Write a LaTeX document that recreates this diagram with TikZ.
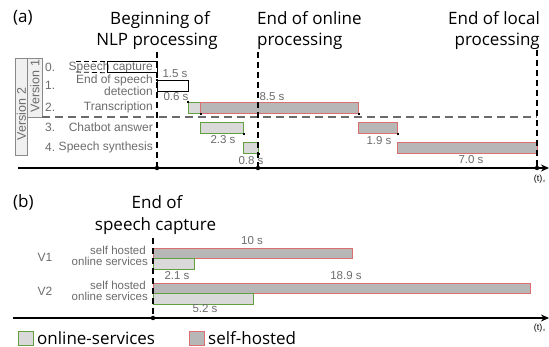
\documentclass[tikz,border=0pt]{standalone}
\usepackage{fontspec}
\setmainfont{Liberation Sans}
\newfontfamily\bigf{Open Sans}
\usetikzlibrary{arrows.meta}
\definecolor{gbord}{HTML}{62A03F}
\definecolor{rbord}{HTML}{D9706F}
\definecolor{lfill}{HTML}{D9D9D9}
\definecolor{dfill}{HTML}{B7B7B7}
\definecolor{txtg}{HTML}{6B6B6B}
\definecolor{vfill}{HTML}{F0F0F0}
\begin{document}
\begin{tikzpicture}[x=1pt,y=-1pt,
  big/.style={font=\bigf\fontsize{17}{20}\selectfont, inner sep=0},
  lab/.style={font=\fontsize{12}{9}\selectfont, text=txtg, inner sep=0},
  slab/.style={font=\fontsize{11.5}{9}\selectfont, text=txtg, inner sep=0},
  dur/.style={font=\fontsize{11.5}{12}\selectfont, text=txtg, inner sep=0},
  vlab/.style={font=\fontsize{12.5}{13}\selectfont, text=txtg, inner sep=0, rotate=90},
  verbox/.style={draw=txtg!80, fill=vfill, line width=0.8pt, inner sep=0, anchor=north west},
  gbar/.style={draw=gbord, fill=lfill, line width=1pt, inner sep=0, anchor=north west},
  rbar/.style={draw=rbord, fill=dfill, line width=1pt, inner sep=0, anchor=north west},
  wbar/.style={draw=black, fill=white, line width=0.8pt, inner sep=0, anchor=north west},
  vdash/.style={line width=1.8pt, dash pattern=on 6pt off 4pt},
  hdash/.style={draw=txtg, line width=1.1pt, dash pattern=on 8pt off 5pt},
  axis/.style={line width=2pt, -{Stealth[length=8pt,width=7pt]}},
  tdot/.style={circle, fill=black, inner sep=0, minimum size=4.5pt},
  cdot/.style={fill=black, inner sep=0, minimum size=2pt},
  tsub/.style={font=\fontsize{9}{9}\selectfont, inner sep=0}
]
\useasboundingbox (0,0) rectangle (549,347);

% ================= (a) =================
\node[big, anchor=base west] (pa) at (13,23) {(a)};
\node[big, anchor=base] (beg1) at (160,25) {Beginning of};
\node[big, anchor=base] (beg2) at (157,46) {NLP processing};
\node[big, anchor=base west] (onl1) at (257,25) {End of online};
\node[big, anchor=base west] (onl2) at (257,46) {processing};
\node[big, anchor=base east] (loc1) at (540,25) {End of local};
\node[big, anchor=base east] (loc2) at (540,46) {processing};

% version boxes
\node[verbox, minimum width=12, minimum height=97] (ver2) at (15,58) {};
\node[verbox, minimum width=15, minimum height=59] (ver1) at (27,58) {};
\node[vlab] (ver2t) at (21.5,114) {Version 2};
\node[vlab] (ver1t) at (35,86) {Version 1};

% row labels
\node[lab, anchor=west] (n0) at (45,67) {0.};
\node[lab, anchor=west] (n1) at (45,85) {1.};
\node[lab, anchor=west] (n2) at (45,107) {2.};
\node[lab, anchor=west] (n3) at (45,127) {3.};
\node[lab, anchor=west] (n4) at (45,147) {4.};
\node[lab, anchor=east] (r0) at (153,67) {Speech capture};
\node[lab, anchor=east, align=right] (r1) at (153,85) {End of speech\\detection};
\node[lab, anchor=east] (r2) at (153,107) {Transcription};
\node[lab, anchor=east] (r3) at (153,127) {Chatbot answer};
\node[lab, anchor=east] (r4) at (153,147) {Speech synthesis};

% speech capture box
\node[wbar, fill=none, minimum width=50, minimum height=11] (sc) at (107,61) {};
\coordinate (scA) at (76,61);
\coordinate (scB) at (76,72);
\draw[line width=0.8pt, dash pattern=on 5pt off 3pt] (scA) -- (sc.north west);
\draw[line width=0.8pt, dash pattern=on 5pt off 3pt] (scB) -- (sc.south west);

% horizontal dashed separator
\coordinate (hA) at (42,117);
\coordinate (hB) at (537,117);
\draw[hdash] (hA) -- (hB);

% bars
\node[wbar, minimum width=31, minimum height=11] (b1) at (157,80) {};
\node[gbar, minimum width=12, minimum height=10.5] (b2g) at (188,102.5) {};
\node[rbar, minimum width=158, minimum height=10.5] (b2r) at (200,102.5) {};
\node[gbar, minimum width=43, minimum height=10.5] (b3g) at (200,122.5) {};
\node[rbar, minimum width=39, minimum height=10.5] (b3r) at (358,122.5) {};
\node[gbar, minimum width=15, minimum height=10.5] (b4g) at (243,142.5) {};
\node[rbar, minimum width=140, minimum height=10.5] (b4r) at (397,142.5) {};

% corner markers
\node[cdot] (c1) at (b1.north west) {};
\node[cdot] (c2) at (b2g.north west) {};
\node[cdot] (c3) at (b2g.south east) {};
\node[cdot] (c4) at (b2r.south east) {};
\node[cdot] (c5) at (b3g.south east) {};
\node[cdot] (c6) at (b3r.south east) {};
\node[cdot] (c7) at (b4g.south east) {};

% durations
\node[dur] (d1) at (175,74) {1.5 s};
\node[dur] (d2) at (176,97) {0.6 s};
\node[dur] (d3) at (272,97) {8.5 s};
\node[dur] (d4) at (223,140) {2.3 s};
\node[dur] (d5) at (251,161) {0.8 s};
\node[dur] (d6) at (379,141) {1.9 s};
\node[dur] (d7) at (471,160) {7.0 s};

% vertical dashed lines + axis
\coordinate (v1t) at (157,52);
\coordinate (v2t) at (258,52);
\coordinate (v3t) at (537,50);
\coordinate (axA) at (18,168);
\coordinate (axB) at (549,168);
\node[tdot] (t1) at (157,168) {};
\node[tdot] (t2) at (258,168) {};
\node[tdot] (t3) at (537,168) {};
\draw[vdash] (v1t) -- (t1);
\draw[vdash] (v2t) -- (t2);
\draw[vdash] (v3t) -- (t3);
\draw[axis] (axA) -- (axB);
\node[tsub] (ta) at (540,179) {(t)$_{\scriptscriptstyle s}$};

% ================= (b) =================
\node[big, anchor=base west] (pb) at (13,208) {(b)};
\node[big, anchor=base] (esc1) at (157,209) {End of};
\node[big, anchor=base] (esc2) at (155.5,231) {speech capture};

\node[lab, font=\fontsize{12}{12}\selectfont] (V1) at (45,257) {V1};
\node[lab, font=\fontsize{12}{12}\selectfont] (V2) at (45,291) {V2};
\node[slab, anchor=east] (s1) at (146,250.5) {self hosted};
\node[slab, anchor=east] (o1) at (148,261.5) {online services};
\node[slab, anchor=east] (s2) at (146,285.5) {self hosted};
\node[slab, anchor=east] (o2) at (148,296.5) {online services};

\node[rbar, minimum width=199, minimum height=10.5] (p1r) at (153,248) {};
\node[gbar, minimum width=41, minimum height=10.5] (p1g) at (153,258.5) {};
\node[rbar, minimum width=377, minimum height=10.5] (p2r) at (153,283) {};
\node[gbar, minimum width=100, minimum height=10.5] (p2g) at (153,293.5) {};

\node[dur] (e1) at (252,241) {10 s};
\node[dur] (e2) at (177,276) {2.1 s};
\node[dur] (e3) at (346,276) {18.9 s};
\node[dur] (e4) at (205,309) {5.2 s};

\coordinate (wt) at (153,238);
\coordinate (bxA) at (13,318);
\coordinate (bxB) at (549,318);
\node[tdot] (t4) at (153,318) {};
\draw[vdash] (wt) -- (t4);
\draw[axis] (bxA) -- (bxB);
\node[tsub] (tb) at (540,328) {(t)$_{\scriptscriptstyle s}$};

% legend
\node[gbar, minimum width=15, minimum height=14] (lg) at (18,331) {};
\node[big, anchor=west] (lgt) at (37,338) {online-services};
\node[rbar, minimum width=15, minimum height=14] (lr) at (189,331) {};
\node[big, anchor=west] (lrt) at (208,338) {self-hosted};
\end{tikzpicture}
\end{document}
